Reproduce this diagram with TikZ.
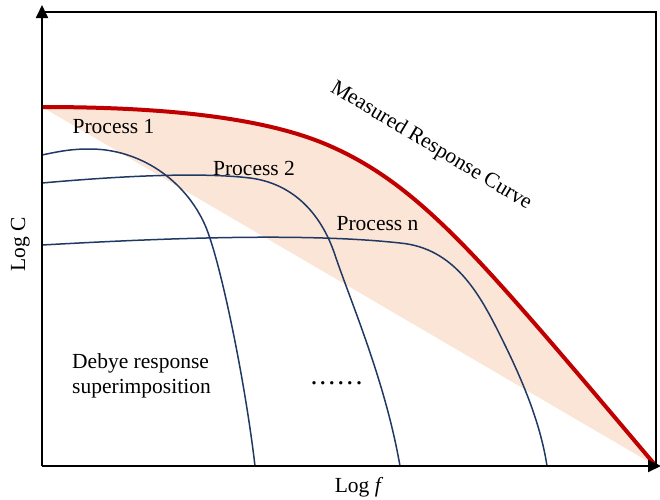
\documentclass[tikz,border=0pt]{standalone}
\usepackage{fontspec}
\setmainfont{Liberation Serif}
\usetikzlibrary{arrows.meta}
\definecolor{respred}{HTML}{C00000}
\definecolor{procblue}{HTML}{1F3864}
\definecolor{bandfill}{HTML}{FBE5D6}
\begin{document}
\begin{tikzpicture}[x=1pt,y=-1pt,
  lbl/.style={font=\fontsize{21.5}{25}\selectfont, inner sep=0pt},
  proc/.style={draw=procblue, line width=1.5pt},
  meas/.style={draw=respred, line width=4pt},
  axisline/.style={line width=1.8pt, -{Triangle[length=13pt,width=12pt]}},
  frameline/.style={line width=1.3pt}]
\useasboundingbox (0,0) rectangle (660,499);

% corners of the plot area
\coordinate (O) at (42,466);
\coordinate (ytip) at (42,5);
\coordinate (xtip) at (661,466);
\coordinate (tl) at (42,12);
\coordinate (tr) at (656,12);
\coordinate (br) at (656,466);
\coordinate (lowstart) at (42,107);

% band between the measured curve and the straight asymptote
\fill[bandfill] (lowstart) .. controls (150,107) and (260,115) .. (330,146)
  .. controls (380,168) and (420,200) .. (470,252)
  .. controls (520,304) and (600,400) .. (br) -- cycle;

% individual Debye processes
\draw[proc] (42,155) .. controls (65,150) and (75,149) .. (90,149)
  .. controls (140,149) and (185,180) .. (205,225)
  .. controls (220,259) and (245,380) .. (255,466);
\draw[proc] (42,183) .. controls (120,176) and (200,172) .. (250,178)
  .. controls (290,183) and (320,210) .. (335,255)
  .. controls (350,300) and (385,380) .. (400,466);
\draw[proc] (42,245) .. controls (150,239) and (300,232) .. (400,243)
  .. controls (455,248) and (480,295) .. (500,335)
  .. controls (520,375) and (540,420) .. (547,466);

% measured response
\draw[meas] (lowstart) .. controls (150,107) and (260,115) .. (330,146)
  .. controls (380,168) and (420,200) .. (470,252)
  .. controls (520,304) and (600,400) .. (br);

% frame and axes
\draw[frameline] (tl) -- (tr) -- (br);
\draw[axisline] (O) -- (ytip);
\draw[axisline] (O) -- (xtip);

% labels
\node[lbl, anchor=base] (p1) at (113.5,133) {Process 1};
\node[lbl, anchor=base] (p2) at (254,175) {Process 2};
\node[lbl, anchor=base] (pn) at (377.5,230) {Process n};
\node[lbl, rotate=-31] (mrc) at (431,146) {Measured Response Curve};
\node[lbl, anchor=north west, align=left] (debye) at (72,353) {Debye response\\superimposition};
\node[lbl, font=\fontsize{28}{30}\selectfont, anchor=base] (dots) at (336.5,384)
  {.\kern2pt.\kern2pt.\kern2pt.\kern2pt.\kern2pt.};
\node[lbl, anchor=base] (xlab) at (359,492) {Log \textit{f}};
\node[lbl, rotate=90, anchor=base] (ylab) at (25,244) {Log C};
\end{tikzpicture}
\end{document}
